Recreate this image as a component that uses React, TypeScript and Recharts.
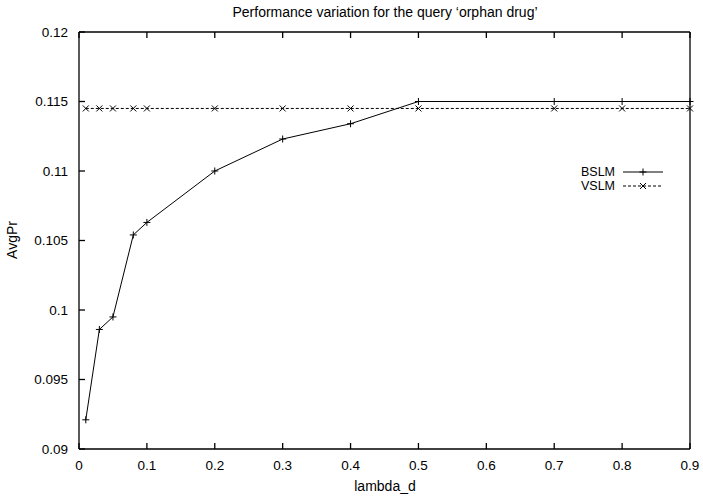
import { LineChart, Line, XAxis, YAxis } from 'recharts'

const lambdaValues = [0.01, 0.03, 0.05, 0.08, 0.1, 0.2, 0.3, 0.4, 0.5, 0.7, 0.8, 0.9]
const bslmValues = [0.0921, 0.0986, 0.0995, 0.1054, 0.1063, 0.11, 0.1123, 0.1134, 0.115, 0.115, 0.115, 0.115]
const vslmValues = [0.1145, 0.1145, 0.1145, 0.1145, 0.1145, 0.1145, 0.1145, 0.1145, 0.1145, 0.1145, 0.1145, 0.1145]

const xTicks = [0, 0.1, 0.2, 0.3, 0.4, 0.5, 0.6, 0.7, 0.8, 0.9]
const yTicks = [0.09, 0.095, 0.1, 0.105, 0.11, 0.115, 0.12]

const data = lambdaValues.map((x, i) => ({ x, bslm: bslmValues[i], vslm: vslmValues[i] }))

const FONT = 'Liberation Sans, Arial, sans-serif'
const W = 703
const H = 498

// gnuplot style point markers
const Plus = (props: any) => {
  const { cx, cy } = props
  if (cx == null || cy == null) return null
  return (
    <g stroke="#000" strokeWidth={1}>
      <line x1={cx - 3.5} y1={cy} x2={cx + 3.5} y2={cy} />
      <line x1={cx} y1={cy - 3.5} x2={cx} y2={cy + 3.5} />
    </g>
  )
}

const Cross = (props: any) => {
  const { cx, cy } = props
  if (cx == null || cy == null) return null
  return (
    <g stroke="#000" strokeWidth={1}>
      <line x1={cx - 3} y1={cy - 3} x2={cx + 3} y2={cy + 3} />
      <line x1={cx - 3} y1={cy + 3} x2={cx + 3} y2={cy - 3} />
    </g>
  )
}

const tickStyle = { fontFamily: FONT, fontSize: 13.5, fill: '#000' }
const axisLine = { stroke: '#000', strokeWidth: 1.3 }
const tickLine = { stroke: '#000', strokeWidth: 1.3 }
const blank = () => ''

export default function App() {
  return (
    <div style={{ position: 'absolute', left: 0, top: 0, width: W, height: H, background: '#fff' }}>
      <LineChart width={W} height={H} data={data} margin={{ top: 31, right: 12, bottom: 48, left: 78 }}>
        <XAxis
          dataKey="x"
          type="number"
          domain={[0, 0.9]}
          ticks={xTicks}
          height={1}
          tickSize={-6}
          tickMargin={17}
          tick={tickStyle}
          axisLine={axisLine}
          tickLine={tickLine}
        />
        <XAxis
          xAxisId="top"
          orientation="top"
          dataKey="x"
          type="number"
          domain={[0, 0.9]}
          ticks={xTicks}
          height={1}
          tickSize={-6}
          tickFormatter={blank}
          axisLine={axisLine}
          tickLine={tickLine}
        />
        <YAxis
          type="number"
          domain={[0.09, 0.12]}
          ticks={yTicks}
          width={1}
          tickSize={-6}
          tickMargin={17}
          tick={tickStyle}
          axisLine={axisLine}
          tickLine={tickLine}
        />
        <YAxis
          yAxisId="right"
          orientation="right"
          type="number"
          domain={[0.09, 0.12]}
          ticks={yTicks}
          width={1}
          tickSize={-6}
          tickFormatter={blank}
          axisLine={axisLine}
          tickLine={tickLine}
        />
        <Line
          dataKey="bslm"
          type="linear"
          stroke="#000"
          strokeWidth={1}
          dot={<Plus />}
          activeDot={false}
          isAnimationActive={false}
        />
        <Line
          dataKey="vslm"
          type="linear"
          stroke="#000"
          strokeWidth={1}
          strokeDasharray="3 2"
          dot={<Cross />}
          activeDot={false}
          isAnimationActive={false}
        />
      </LineChart>
      <svg
        width={W}
        height={H}
        style={{ position: 'absolute', left: 0, top: 0, pointerEvents: 'none' }}
        fontFamily={FONT}
        fontSize={14}
      >
        <text x={385} y={16.5} textAnchor="middle" fill="#000">
          Performance variation for the query ‘orphan drug’
        </text>
        <text x={385} y={491} textAnchor="middle" fill="#000">
          lambda_d
        </text>
        <text x={17} y={240} textAnchor="middle" fill="#000" transform="rotate(-90 17 240)">
          AvgPr
        </text>
        {/* legend */}
        <g fontSize={12.5}>
          <text x={615} y={176} textAnchor="end" fill="#000">BSLM</text>
          <text x={615} y={190} textAnchor="end" fill="#000">VSLM</text>
        </g>
        <line x1={623} y1={172} x2={663} y2={172} stroke="#000" strokeWidth={1} />
        <Plus cx={643} cy={172} />
        <line x1={623} y1={186} x2={663} y2={186} stroke="#000" strokeWidth={1} strokeDasharray="3 2" />
        <Cross cx={643} cy={186} />
      </svg>
    </div>
  )
}
